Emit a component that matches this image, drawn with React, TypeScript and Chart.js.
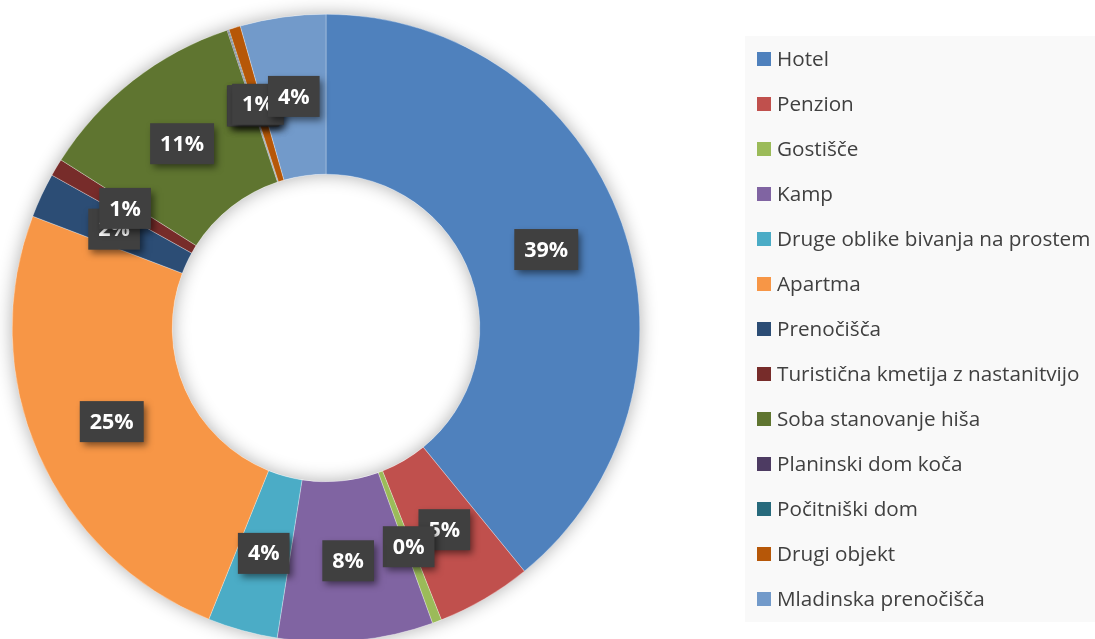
import React, { useEffect, useRef } from 'react';
import { Chart, registerables } from 'chart.js';

Chart.register(...registerables);

const categories = [
  'Hotel',
  'Penzion',
  'Gostišče',
  'Kamp',
  'Druge oblike bivanja na prostem',
  'Apartma',
  'Prenočišča',
  'Turistična kmetija z nastanitvijo',
  'Soba stanovanje hiša',
  'Planinski dom koča',
  'Počitniški dom',
  'Drugi objekt',
  'Mladinska prenočišča',
];

const shares = [39.1, 4.9, 0.48, 8.0, 3.6, 24.7, 2.3, 0.9, 10.9, 0.05, 0.05, 0.6, 4.4];

const colors = [
  '#4F81BD',
  '#C0504D',
  '#9BBB59',
  '#8064A2',
  '#4BACC6',
  '#F79646',
  '#2C4D75',
  '#772C2A',
  '#5F7530',
  '#4D3B62',
  '#276A7C',
  '#B65708',
  '#729ACA',
];

const LABEL_FONT = 'bold 21.5px "Open Sans", sans-serif';
const LEGEND_FONT = '20.7px "Open Sans", sans-serif';

const ringShadow = {
  id: 'ringShadow',
  beforeDatasetsDraw(chart: any) {
    const meta = chart.getDatasetMeta(0);
    const arc = meta.data[0];
    if (!arc) return;
    const { x, y, outerRadius, innerRadius } = arc.getProps(['x', 'y', 'outerRadius', 'innerRadius'], true);
    const ctx = chart.ctx;
    ctx.save();
    ctx.shadowColor = 'rgba(0,0,0,0.32)';
    ctx.shadowBlur = 18;
    ctx.fillStyle = '#ffffff';
    ctx.beginPath();
    ctx.arc(x, y, outerRadius, 0, Math.PI * 2);
    ctx.moveTo(x + innerRadius, y);
    ctx.arc(x, y, innerRadius, 0, Math.PI * 2, true);
    ctx.fill('evenodd');
    ctx.restore();
  },
};

const boxLabels = {
  id: 'boxLabels',
  afterDatasetsDraw(chart: any) {
    const ds = chart.data.datasets[0];
    const values = ds.data as number[];
    const total = values.reduce((a, b) => a + b, 0);
    const meta = chart.getDatasetMeta(0);
    const ctx = chart.ctx;
    ctx.save();
    ctx.font = LABEL_FONT;
    ctx.textAlign = 'center';
    ctx.textBaseline = 'middle';
    meta.data.forEach((el: any, i: number) => {
      const p = el.getProps(['x', 'y', 'startAngle', 'endAngle', 'innerRadius', 'outerRadius'], true);
      const mid = (p.startAngle + p.endAngle) / 2;
      const r = (p.innerRadius + p.outerRadius) / 2;
      const cx = p.x + Math.cos(mid) * r;
      const cy = p.y + Math.sin(mid) * r;
      const text = Math.round((values[i] / total) * 100) + '%';
      const w = ctx.measureText(text).width + 20;
      const h = 41;
      ctx.save();
      ctx.shadowColor = 'rgba(0,0,0,0.5)';
      ctx.shadowBlur = 7;
      ctx.shadowOffsetX = 3;
      ctx.shadowOffsetY = 4;
      ctx.fillStyle = '#404040';
      ctx.fillRect(cx - w / 2, cy - h / 2, w, h);
      ctx.restore();
      ctx.fillStyle = '#ffffff';
      ctx.fillText(text, cx, cy + 1);
    });
    ctx.restore();
  },
};

const sideLegend = {
  id: 'sideLegend',
  afterDraw(chart: any) {
    const ctx = chart.ctx;
    const labels = chart.data.labels as string[];
    const bg = chart.data.datasets[0].backgroundColor as string[];
    ctx.save();
    ctx.fillStyle = '#f9f9f9';
    ctx.fillRect(745, 36, 350, 586);
    ctx.font = LEGEND_FONT;
    ctx.textAlign = 'left';
    ctx.textBaseline = 'middle';
    labels.forEach((lab, i) => {
      const yy = 59 + i * 45;
      ctx.fillStyle = bg[i];
      ctx.fillRect(757, yy - 7, 14, 14);
      ctx.fillStyle = '#404040';
      ctx.fillText(lab, 777, yy + 1);
    });
    ctx.restore();
  },
};

export default function App() {
  const canvasRef = useRef<HTMLCanvasElement | null>(null);

  useEffect(() => {
    document.body.style.margin = '0';
    const canvas = canvasRef.current;
    if (!canvas) return;
    const chart = new Chart(canvas, {
      type: 'doughnut',
      data: {
        labels: categories,
        datasets: [
          {
            data: shares,
            backgroundColor: colors,
            borderColor: '#ffffff',
            borderWidth: 0.3,
            hoverOffset: 0,
            offset: 0,
          },
        ],
      },
      options: {
        responsive: false,
        animation: false,
        events: [],
        cutout: '49%',
        layout: { padding: { left: 12, top: 14, right: 455, bottom: 3 } },
        plugins: {
          legend: { display: false },
          tooltip: { enabled: false },
        },
      },
      plugins: [ringShadow, boxLabels, sideLegend],
    });
    return () => chart.destroy();
  }, []);

  return (
    <div style={{ width: 1095, height: 639, overflow: 'hidden', background: '#ffffff' }}>
      <canvas ref={canvasRef} width={1095} height={645} style={{ display: 'block' }} />
    </div>
  );
}
